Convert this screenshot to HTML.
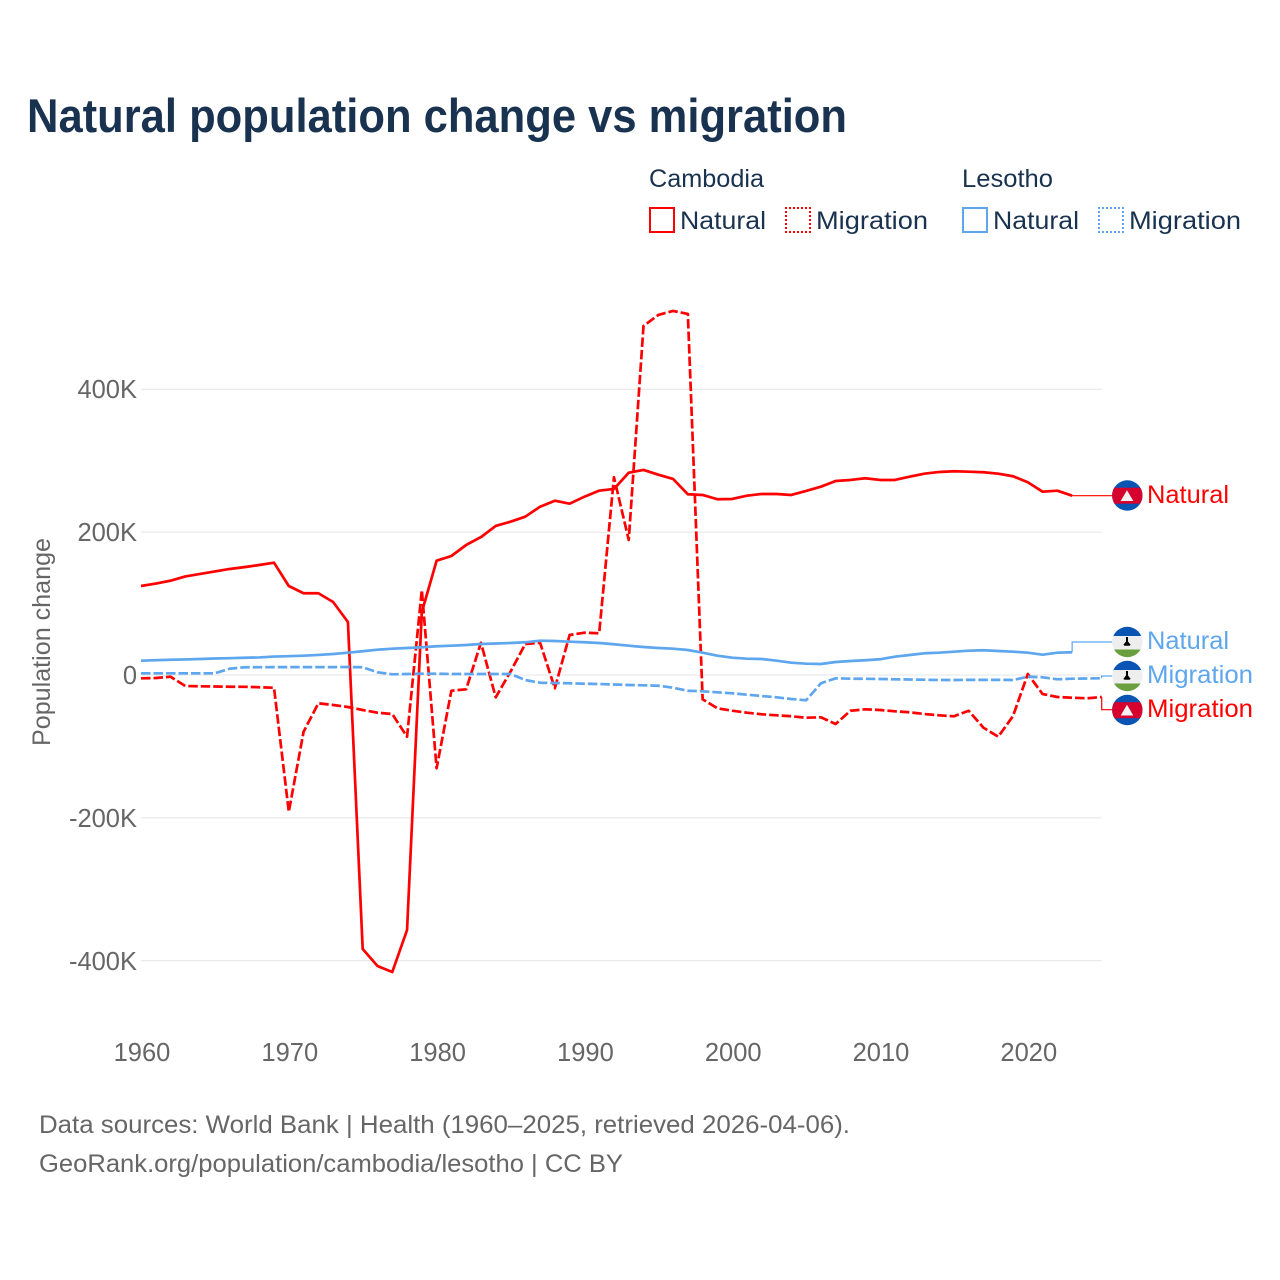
<!DOCTYPE html>
<html lang="en">
<head>
<meta charset="utf-8">
<title>Natural population change vs migration</title>
<style>
html,body{margin:0;padding:0;background:#fff;width:1280px;height:1280px;overflow:hidden}
svg{display:block}
text{font-family:"Liberation Sans",sans-serif}
</style>
</head>
<body>
<svg id="chart" xmlns="http://www.w3.org/2000/svg" width="1280" height="1280" viewBox="0 0 1280 1280">
  <rect width="1280" height="1280" fill="#fff"/>
  <defs>
    <clipPath id="flagClipA"><circle cx="1127.3" cy="495.5" r="15.2"/></clipPath>
    <clipPath id="flagClipB"><circle cx="1127.3" cy="642" r="15.2"/></clipPath>
    <clipPath id="flagClipC"><circle cx="1127.3" cy="676" r="15.2"/></clipPath>
    <clipPath id="flagClipD"><circle cx="1127.3" cy="710" r="15.2"/></clipPath>
  </defs>

  <text x="27" y="132" font-size="47" font-weight="700" fill="#18324f" textLength="820" lengthAdjust="spacingAndGlyphs">Natural population change vs migration</text>

  <g>
    <text x="649" y="187" font-size="25" fill="#18324f" textLength="115" lengthAdjust="spacingAndGlyphs">Cambodia</text>
    <text x="962" y="187" font-size="25" fill="#18324f" textLength="91" lengthAdjust="spacingAndGlyphs">Lesotho</text>
    <rect x="650" y="208" width="24" height="24" fill="none" stroke="#ff0000" stroke-width="2"/>
    <text x="680" y="229" font-size="25" fill="#18324f" textLength="86" lengthAdjust="spacingAndGlyphs">Natural</text>
    <rect x="786" y="208" width="24" height="24" fill="none" stroke="#ff0000" stroke-width="2" stroke-dasharray="2 2" stroke-dashoffset="1"/>
    <text x="816" y="229" font-size="25" fill="#18324f" textLength="112" lengthAdjust="spacingAndGlyphs">Migration</text>
    <rect x="963" y="208" width="24" height="24" fill="none" stroke="#5ea6ee" stroke-width="2"/>
    <text x="993" y="229" font-size="25" fill="#18324f" textLength="86" lengthAdjust="spacingAndGlyphs">Natural</text>
    <rect x="1099" y="208" width="24" height="24" fill="none" stroke="#5ea6ee" stroke-width="2" stroke-dasharray="2 2" stroke-dashoffset="1"/>
    <text x="1129" y="229" font-size="25" fill="#18324f" textLength="112" lengthAdjust="spacingAndGlyphs">Migration</text>
  </g>

  <g id="grid"></g>
  <g id="yTicks"></g>
  <g id="xTicks"></g>
  <text transform="translate(50,746) rotate(-90)" font-size="25" fill="#666666" textLength="208" lengthAdjust="spacingAndGlyphs">Population change</text>

  <g id="connectors"></g>
  <g id="series"></g>

  <g clip-path="url(#flagClipA)">
    <rect x="1112" y="480" width="31" height="31" fill="#0a54b4"/>
    <rect x="1112" y="487.7" width="31" height="16" fill="#d6002f"/>
    <path d="M1127 490.3L1133.3 501H1120.7Z" fill="#f4f1f1"/>
  </g>
  <g clip-path="url(#flagClipB)">
    <rect x="1112" y="626" width="31" height="10" fill="#0a54b4"/>
    <rect x="1112" y="636" width="31" height="13.5" fill="#eeeeee"/>
    <rect x="1112" y="649.5" width="31" height="9" fill="#6a9f3f"/>
    <path d="M1126 637h2v4.5l2.6 3.2-1 1h-5.2l-1-1 2.6-3.2z" fill="#000"/>
  </g>
  <g clip-path="url(#flagClipC)">
    <rect x="1112" y="660" width="31" height="10" fill="#0a54b4"/>
    <rect x="1112" y="670" width="31" height="13.5" fill="#eeeeee"/>
    <rect x="1112" y="683.5" width="31" height="9" fill="#6a9f3f"/>
    <path d="M1126 671h2v4.5l2.6 3.2-1 1h-5.2l-1-1 2.6-3.2z" fill="#000"/>
  </g>
  <g clip-path="url(#flagClipD)">
    <rect x="1112" y="694" width="31" height="32" fill="#0a54b4"/>
    <rect x="1112" y="702.2" width="31" height="16" fill="#d6002f"/>
    <path d="M1127 704.8L1133.3 715.5H1120.7Z" fill="#f4f1f1"/>
  </g>

  <text x="1147" y="503" font-size="25" fill="#ff0000" textLength="82" lengthAdjust="spacingAndGlyphs">Natural</text>
  <text x="1147" y="649" font-size="25" fill="#5ea6ee" textLength="82" lengthAdjust="spacingAndGlyphs">Natural</text>
  <text x="1147" y="683" font-size="25" fill="#5ea6ee" textLength="106" lengthAdjust="spacingAndGlyphs">Migration</text>
  <text x="1147" y="717" font-size="25" fill="#ff0000" textLength="106" lengthAdjust="spacingAndGlyphs">Migration</text>

  <text x="39" y="1133" font-size="25" fill="#666666" textLength="811" lengthAdjust="spacingAndGlyphs">Data sources: World Bank | Health (1960–2025, retrieved 2026-04-06).</text>
  <text x="39" y="1172" font-size="25" fill="#666666" textLength="584" lengthAdjust="spacingAndGlyphs">GeoRank.org/population/cambodia/lesotho | CC BY</text>
</svg>

<script>
var startYear = 1960;
var yTickValues = [400, 200, 0, -200, -400];
var yTickLabels = ["400K", "200K", "0", "-200K", "-400K"];
var xTickValues = [1960, 1970, 1980, 1990, 2000, 2010, 2020];
var xTickLabels = ["1960", "1970", "1980", "1990", "2000", "2010", "2020"];

var cambodiaNatural = [
  124.6,128,132,138,141.4,145,148.4,151,154,157.2,
  124.6,114.4,114.4,102.2,74.2,-383.6,-407.4,-415.8,-357,88,
  160,166.6,182,193,208.6,214.6,221.6,235.6,244,239.8,
  249.6,258,260.4,283.2,287,280.4,274.4,253,252,246,
  246.4,251,253.4,253.4,252,257.6,263.6,271.6,273,275.4,
  273,273,277.6,281.8,284.2,285.2,284.6,283.8,281.8,278.2,
  269.8,256.6,258,251
];
var cambodiaMigration = [
  -4.6,-4.2,-2.4,-15.4,-15.8,-16.1,-16.4,-16.5,-17.1,-17.8,
  -191.4,-79.4,-39.6,-42,-44.8,-49,-52.8,-54.6,-86.4,119,
  -130.6,-22,-20,45.2,-31.2,4.6,43.4,45.2,-18.6,56,
  59.2,58.4,276.8,189,488.6,504,509.6,505.4,-34,-46.6,
  -50,-52.8,-55,-56.4,-57.8,-59.8,-59.2,-68.6,-50,-48,
  -49,-50.8,-52.2,-54.6,-56.4,-57.8,-50,-73.8,-86.4,-57.4,
  1.4,-26.6,-30.8,-31.8,-32.6,-30.8
];
var lesothoNatural = [
  20,20.7,21.3,21.8,22.4,23.1,23.5,24.1,24.6,25.8,
  26.3,27,28.1,29.4,31.2,33.2,35.4,36.8,37.8,38.8,
  40.2,41,42,43.4,44.1,44.8,45.8,48,47.6,46.6,
  45.8,44.8,43,41,39.2,37.8,36.8,35,31.2,27,
  24.2,22.8,22.4,20,17.2,15.8,15.4,18.2,19.6,20.6,
  22,25.6,28,30.4,31.2,32.6,34,34.6,33.6,32.6,
  31.2,28.4,31.2,31.8
];
var lesothoMigration = [
  2.4,2.4,2.4,2.4,2.4,2.4,8.8,10.8,10.9,11,
  11,11,11,11,11.2,10.8,3.8,1,1.4,1.8,
  1.8,1.4,1.4,1.4,1.4,1.4,-7,-10.8,-11.2,-11.6,
  -12.2,-12.6,-13.3,-14,-14.4,-15,-17.8,-22,-22.8,-24.2,
  -25.6,-27.6,-29.4,-31.2,-33.6,-35.4,-11.6,-4.6,-5.2,-5.3,
  -5.6,-6,-6.3,-6.6,-7,-7,-6.8,-6.8,-6.8,-7,
  -2.4,-3.2,-6,-5.2,-4.9,-4.6
];

var SVG_NS = "http://www.w3.org/2000/svg";
function xScale(year) { return 141 + (year - 1960) * 14.78; }
function yScale(v) { return 675 - v * 0.7144; }

var grid = document.getElementById("grid");
var yTicks = document.getElementById("yTicks");
var xTicks = document.getElementById("xTicks");
var series = document.getElementById("series");
var connectors = document.getElementById("connectors");

yTickValues.forEach(function (v, i) {
  var line = document.createElementNS(SVG_NS, "line");
  line.setAttribute("x1", 141);
  line.setAttribute("x2", xScale(2025));
  line.setAttribute("y1", yScale(v));
  line.setAttribute("y2", yScale(v));
  line.setAttribute("stroke", "#e4e4e4");
  line.setAttribute("stroke-width", 1);
  
  
  grid.appendChild(line);

  var t = document.createElementNS(SVG_NS, "text");
  t.setAttribute("x", 137);
  t.setAttribute("y", yScale(v) + 9);
  t.setAttribute("text-anchor", "end");
  t.setAttribute("font-size", "25.5");
  t.setAttribute("fill", "#666666");
  t.textContent = yTickLabels[i];
  
  
  yTicks.appendChild(t);
});

xTickValues.forEach(function (year, i) {
  var t = document.createElementNS(SVG_NS, "text");
  t.setAttribute("x", xScale(year) + 1);
  t.setAttribute("y", 1061);
  t.setAttribute("text-anchor", "middle");
  t.setAttribute("font-size", "25.5");
  t.setAttribute("fill", "#666666");
  t.textContent = xTickLabels[i];
  
  
  xTicks.appendChild(t);
});

function linePath(values) {
  return values.map(function (v, i) {
    return (i === 0 ? "M" : "L") + xScale(startYear + i).toFixed(2) + " " + yScale(v).toFixed(2);
  }).join("");
}

function addSeries(values, color, dashed, labelY, name) {
  var lastIndex = values.length - 1;
  var endX = xScale(startYear + lastIndex);
  var endY = yScale(values[lastIndex]);

  var conn = document.createElementNS(SVG_NS, "path");
  conn.setAttribute("d", "M" + endX + " " + endY + "V" + labelY + "H1112");
  conn.setAttribute("fill", "none");
  conn.setAttribute("stroke", color);
  conn.setAttribute("stroke-width", 1.2);
  
  
  connectors.appendChild(conn);

  var p = document.createElementNS(SVG_NS, "path");
  p.setAttribute("d", linePath(values));
  p.setAttribute("fill", "none");
  p.setAttribute("stroke", color);
  p.setAttribute("stroke-width", 2.7);
  p.setAttribute("stroke-linejoin", "round");
  if (dashed) { p.setAttribute("stroke-dasharray", "9.5 3"); }
  
  
  series.appendChild(p);
}

addSeries(cambodiaNatural, "#ff0000", false, 495.7, "line-cambodia-natural");
addSeries(cambodiaMigration, "#ff0000", true, 709.7, "line-cambodia-migration");
addSeries(lesothoNatural, "#5ea6ee", false, 642, "line-lesotho-natural");
addSeries(lesothoMigration, "#5ea6ee", true, 676, "line-lesotho-migration");
</script>
</body>
</html>
